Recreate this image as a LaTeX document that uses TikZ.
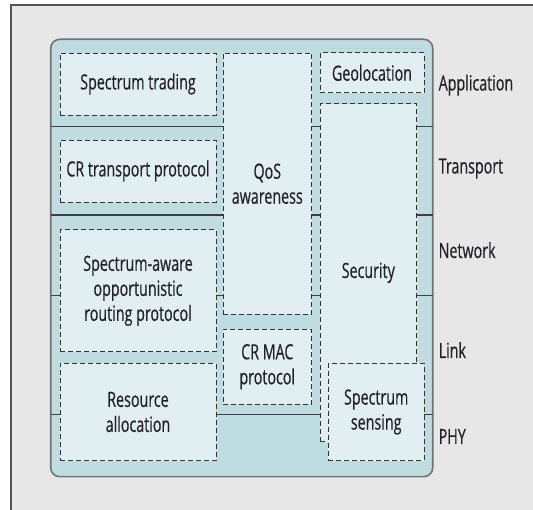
\documentclass[tikz,border=0pt]{standalone}
\usepackage{fontspec}
\setmainfont{Open Sans}[FakeStretch=0.68, FakeBold=0.4]
\definecolor{bggray}{HTML}{E7E7E7}
\definecolor{edgegray}{HTML}{555555}
\definecolor{teal}{HTML}{BFDDE1}
\definecolor{boxfill}{HTML}{E1EFF3}
\definecolor{txt}{HTML}{222226}
\begin{document}
\begin{tikzpicture}[x=1pt,y=-1pt,
  every node/.style={font=\fontsize{21}{25}\selectfont, text=txt},
  dbox/.style={draw=black!80, fill=boxfill, dash pattern=on 5pt off 3pt, line width=0.9pt, align=center, inner sep=0pt, rectangle},
  layerline/.style={draw=black!75, line width=1.2pt},
  lname/.style={anchor=base west, inner sep=0pt}]
\useasboundingbox (0,0) rectangle (533,510);
\fill[white] (0,0) rectangle (533,510);
\fill[bggray] (11,5) rectangle (533,510);
\draw[edgegray, line width=1.5pt] (11,510) -- (11,5) -- (533,5);
% outer
\node[draw=black!55, line width=1.6pt, fill=teal, rounded corners=9pt, minimum width=382pt, minimum height=437.4pt, inner sep=0pt] (outer) at (241.7,258) {};
% layer lines
\coordinate (l1a) at (50.7,126.7); \coordinate (l1b) at (432.7,126.7);
\coordinate (l2a) at (50.7,215); \coordinate (l2b) at (432.7,215);
\coordinate (l3a) at (50.7,295.5); \coordinate (l3b) at (432.7,295.5);
\coordinate (l4a) at (50.7,414.3); \coordinate (l4b) at (432.7,414.3);
\draw[layerline] (l1a) -- (l1b);
\draw[layerline] (l2a) -- (l2b);
\draw[layerline] (l3a) -- (l3b);
\draw[layerline] (l4a) -- (l4b);
% boxes
\node[dbox, minimum width=156pt, minimum height=62pt] (trade) at (138,84) {Spectrum trading};
\node[dbox, minimum width=156pt, minimum height=62pt] (trans) at (138,171) {CR transport protocol};
\node[dbox, minimum width=156pt, minimum height=121.7pt] (route) at (138,290.8) {Spectrum-aware\\opportunistic\\routing protocol};
\node[dbox, minimum width=156pt, minimum height=97.4pt] (res) at (138,412) {Resource\\allocation};
\node[dbox, minimum width=88.7pt, minimum height=261.3pt] (qos) at (267.3,183.7) {QoS\\awareness};
\node[dbox, minimum width=88.5pt, minimum height=75.3pt] (mac) at (267.3,366.7) {CR MAC\\protocol};
\node[dbox, minimum width=104pt, minimum height=39.7pt] (geo) at (372,72.8) {Geolocation};
\node[dbox, minimum width=96.7pt, minimum height=337.7pt] (sec) at (368.3,272.8) {Security};
\node[dbox, minimum width=95.7pt, minimum height=97.2pt] (sens) at (376.2,412) {Spectrum\\sensing};
% layer names
\node[lname] (app) at (438.5,90.5) {Application};
\node[lname] (tra) at (438.5,173.5) {Transport};
\node[lname] (net) at (438.5,258) {Network};
\node[lname] (lnk) at (438.5,358) {Link};
\node[lname] (phy) at (438.5,444) {PHY};
\end{tikzpicture}
\end{document}
